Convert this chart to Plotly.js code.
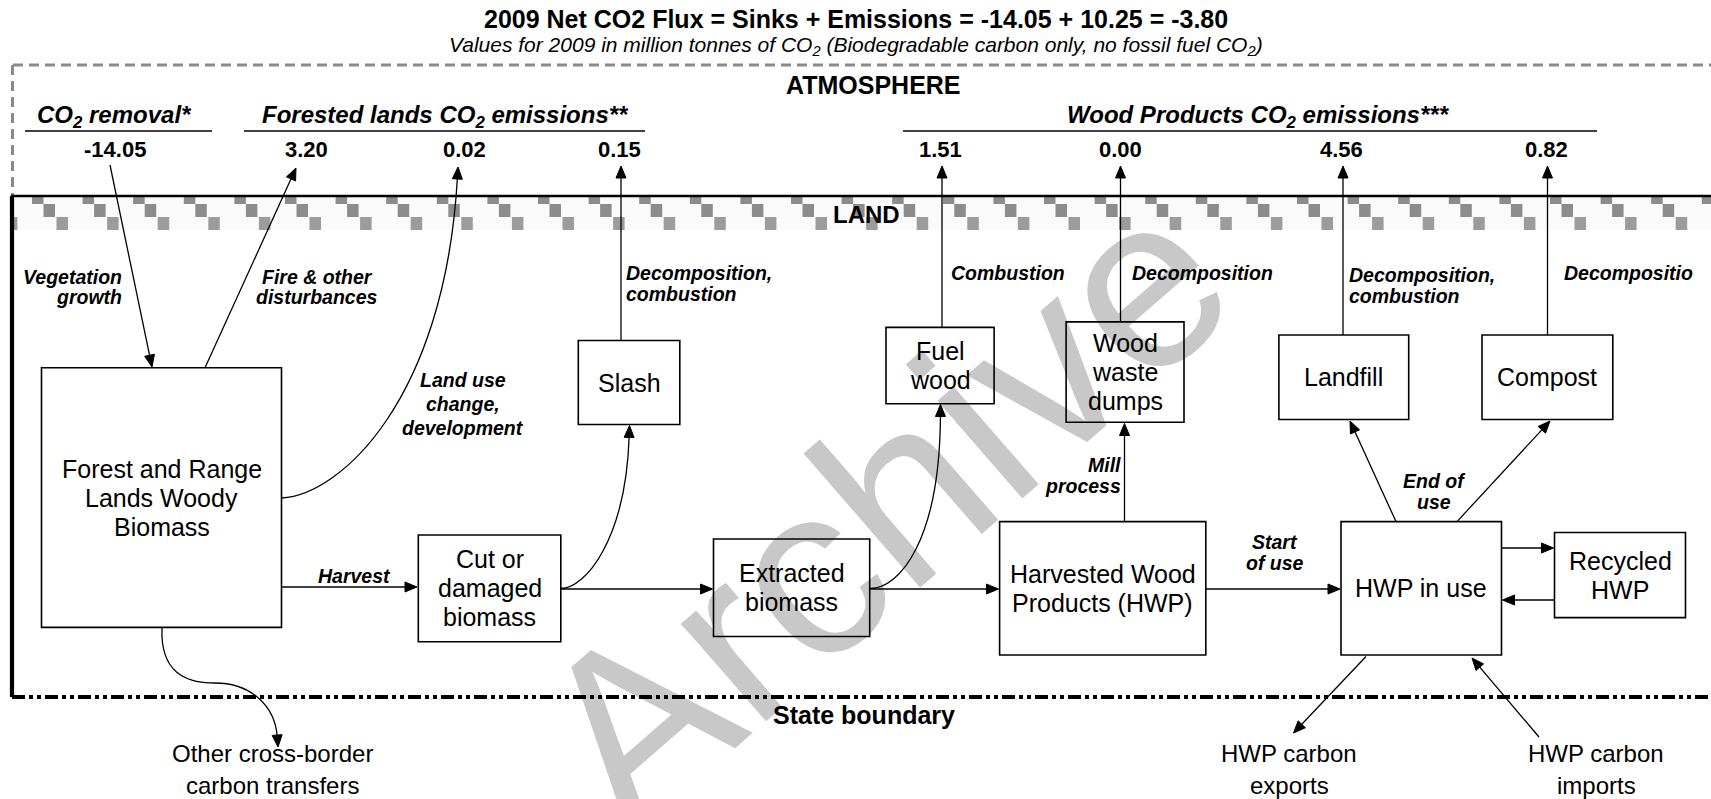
<!DOCTYPE html>
<html><head><meta charset="utf-8">
<script src="https://cdn.plot.ly/plotly-3.0.1.min.js"></script>
<style>
html,body{margin:0;padding:0;background:#fff;overflow:hidden;}
#wrap{position:relative;width:1711px;height:799px;}
#wm,#chart{position:absolute;left:0;top:0;width:1711px;height:799px;}
</style></head><body>
<div id="wrap"><div id="wm"></div><div id="chart"></div></div>
<script>
// ---------------- DATA ----------------
const titleText = "2009 Net CO2 Flux = Sinks + Emissions = -14.05 + 10.25 = -3.80";
const subtitleText = "Values for 2009 in million tonnes of CO<sub>2</sub> (Biodegradable carbon only, no fossil fuel CO<sub>2</sub>)";
const groupLabels = ["CO<sub>2</sub> removal*", "Forested lands CO<sub>2</sub> emissions**", "Wood Products CO<sub>2</sub> emissions***"];
const removalValues = [-14.05];
const forestEmissionValues = [3.20, 0.02, 0.15];
const woodEmissionValues = [1.51, 0.00, 4.56, 0.82];
const zoneLabels = ["ATMOSPHERE", "LAND", "State boundary"];
const boxLabels = [
  ["Forest and Range", "Lands Woody", "Biomass"],
  ["Slash"],
  ["Fuel", "wood"],
  ["Wood", "waste", "dumps"],
  ["Landfill"],
  ["Compost"],
  ["Cut or", "damaged", "biomass"],
  ["Extracted", "biomass"],
  ["Harvested Wood", "Products (HWP)"],
  ["HWP in use"],
  ["Recycled", "HWP"]
];
const flowLabels = [
  ["Vegetation", "growth"],
  ["Fire & other", "disturbances"],
  ["Land use", "change,", "development"],
  ["Decomposition,", "combustion"],
  ["Combustion"],
  ["Decomposition"],
  ["Decomposition,", "combustion"],
  ["Decompositio"],
  ["Harvest"],
  ["Mill", "process"],
  ["Start", "of use"],
  ["End of", "use"]
];
const outsideLabels = [
  ["Other cross-border", "carbon transfers"],
  ["HWP carbon", "exports"],
  ["HWP carbon", "imports"]
];
const watermarkText = "Archive";

// ---------------- LAYOUT GEOMETRY (pixels) ----------------
const W = 1711, H = 799;
const FONT = "Liberation Sans, Arial, Helvetica, sans-serif";
const boxes = [
  [41.5, 281.5, 367.7, 627.4],   // forest
  [578.3, 679.8, 340.5, 424.5],  // slash
  [886, 994.1, 327.4, 403.7],    // fuel wood
  [1066.1, 1184, 321.9, 422.3],  // wood waste
  [1278.9, 1408.7, 335, 419.5],  // landfill
  [1482, 1612.8, 335, 419.5],    // compost
  [418.3, 560.8, 535, 641.7],    // cut
  [713.5, 869.7, 539, 636.5],    // extracted
  [999.6, 1205.8, 521.6, 655],   // HWP
  [1341, 1501.5, 521.6, 655],    // HWP in use
  [1554.5, 1685.5, 532.5, 617.6] // recycled
];
const flowPos = [
  {x:124, y:276.5, a:'right'},
  {x:317, y:276.5, a:'center'},
  {x:463, y:380, a:'center'},
  {x:624, y:273, a:'left'},
  {x:949, y:273, a:'left'},
  {x:1130, y:273, a:'left'},
  {x:1347, y:275, a:'left'},
  {x:1562, y:273, a:'left'},
  {x:354, y:576, a:'center'},
  {x:1123, y:465, a:'right'},
  {x:1274.5, y:542, a:'center'},
  {x:1434, y:481, a:'center'}
];
const outsidePos = [{x:272, y:753.5}, {x:1289, y:753.5}, {x:1596, y:753.5}];
const valueX = {removal:[115], forest:[306, 464, 619], wood:[940, 1120, 1341.5, 1546]};
const valueY = 149;
const groupPos = [{x:114, y:116.5}, {x:445, y:116.5}, {x:1258, y:116.5}];
const groupLines = [[25, 212], [244, 645], [903, 1597]];

// ---------------- HELPERS ----------------
const shapes = [];
const ann = [];
function txt(text, x, y, size, anchor, style) {
  let t = text;
  if (style && style.indexOf('i') >= 0) t = '<i>' + t + '</i>';
  if (style && style.indexOf('b') >= 0) t = '<b>' + t + '</b>';
  ann.push({text:t, x:x, y:y, xref:'x', yref:'y', showarrow:false,
    xanchor:anchor || 'center', yanchor:'middle',
    font:{family:FONT, size:size, color:'#000'}});
}
function lines(arr, x, y0, dy, size, anchor, style) {
  arr.forEach((s, i) => txt(s, x, y0 + i * dy, size, anchor, style));
}
function seg(x0, y0, x1, y1, w, c, dash) {
  shapes.push({type:'line', xref:'x', yref:'y', x0:x0, y0:y0, x1:x1, y1:y1,
    line:{color:c || '#000', width:w || 1.3, dash:dash || 'solid'}});
}
function rect(b) {
  shapes.push({type:'rect', xref:'x', yref:'y', x0:b[0], x1:b[1], y0:b[2], y1:b[3],
    line:{color:'#000', width:1.6}, fillcolor:'rgba(0,0,0,0)'});
}
function fillRect(x0, x1, y0, y1, c) {
  shapes.push({type:'rect', xref:'x', yref:'y', x0:x0, x1:x1, y0:y0, y1:y1,
    line:{width:0}, fillcolor:c});
}
const HL = 12, HW = 5;
function head(x1, y1, x2, y2) {
  const dx = x2 - x1, dy = y2 - y1, L = Math.hypot(dx, dy);
  const ux = dx / L, uy = dy / L;
  const bx = x2 - ux * HL, by = y2 - uy * HL;
  const p1 = [bx - uy * HW, by + ux * HW], p2 = [bx + uy * HW, by - ux * HW];
  shapes.push({type:'path', xref:'x', yref:'y',
    path:`M${x2},${y2} L${p1[0]},${p1[1]} L${p2[0]},${p2[1]} Z`,
    line:{color:'#000', width:1}, fillcolor:'#000'});
}
function arrow(x1, y1, x2, y2) {
  const dx = x2 - x1, dy = y2 - y1, L = Math.hypot(dx, dy);
  seg(x1, y1, x2 - dx / L * (HL - 2), y2 - dy / L * (HL - 2), 1.3);
  head(x1, y1, x2, y2);
}
function curve(p0, p1, p2, p3, withHead) {
  let e = p3;
  if (withHead) {
    const dx = p3[0] - p2[0], dy = p3[1] - p2[1], L = Math.hypot(dx, dy);
    e = [p3[0] - dx / L * (HL - 2), p3[1] - dy / L * (HL - 2)];
  }
  shapes.push({type:'path', xref:'x', yref:'y',
    path:`M${p0[0]},${p0[1]} C${p1[0]},${p1[1]} ${p2[0]},${p2[1]} ${e[0]},${e[1]}`,
    line:{color:'#000', width:1.3}, fillcolor:'rgba(0,0,0,0)'});
  if (withHead) head(p2[0], p2[1], p3[0], p3[1]);
}

// ---------------- BUILD ----------------
// checkered band under land line
fillRect(14, W, 197, 230, '#fafafa');
const period = 50.6, sq = 11.5;
const rows = [[197, 204, 32, '#8c8c8c'], [204, 217, 43.5, '#8c8c8c'], [217, 230, 56.5, '#9c9c9c']];
rows.forEach(r => {
  for (let k = -1; k < 35; k++) {
    const x0 = r[2] + k * period;
    const a = Math.max(x0, 14), b = Math.min(x0 + sq, W);
    if (b > a) fillRect(a, b, r[0], r[1], r[3]);
  }
});

// atmosphere dashed frame
seg(13, 65, W + 5, 65, 3, '#8a8a8a', '10px,6px');
seg(12.5, 65, 12.5, 196, 3, '#8a8a8a', '10px,6px');
// land frame
seg(11, 196, W + 5, 196, 2.6, '#000');
seg(12, 196, 12, 697, 4.2, '#000');
// state boundary
seg(12, 697, W + 5, 697, 4, '#000', '13px,4px,4px,4px,4px,4px');

// group underlines
groupLines.forEach(g => seg(g[0], 131, g[1], 131, 1.6, '#000'));

// boxes
boxes.forEach(rect);

// arrows
arrow(110, 165, 152, 367);                 // vegetation growth
arrow(205, 367.7, 296, 168);               // fire
curve([281.5, 498], [340, 495], [445, 400], [458, 167], true); // land use change
arrow(621, 340.5, 621, 166);               // slash up
curve([560.8, 588.5], [585, 588.5], [626, 540], [629.5, 425.5], true); // cut -> slash
arrow(281.5, 587, 417, 587);               // harvest
arrow(560.8, 589, 712.5, 589);             // cut -> extracted
curve([869.7, 588.5], [900, 588.5], [940, 540], [940.5, 404.5], true); // extracted -> fuel
arrow(869.7, 589, 998.5, 589);             // extracted -> HWP
arrow(942, 327.4, 942, 166);               // fuel up
arrow(1120.5, 321.9, 1120.5, 166);         // waste up
arrow(1124.5, 521.6, 1124.5, 423.5);       // mill process
arrow(1343, 335, 1343, 166);               // landfill up
arrow(1547.5, 335, 1547.5, 166);           // compost up
arrow(1205.8, 589, 1340, 589);             // HWP -> use
arrow(1396, 521.6, 1350, 421);             // use -> landfill
arrow(1457, 521.6, 1550, 421);             // use -> compost
arrow(1502, 548, 1553.5, 548);             // use -> recycled
arrow(1554.5, 600, 1502.5, 600);           // recycled -> use
arrow(1366, 656.5, 1293.5, 733);           // exports
arrow(1539, 737, 1472, 658);               // imports
curve([162, 627.4], [160, 672], [185, 683], [215, 683], false); // cross-border part 1
curve([215, 683], [250, 683], [275, 705], [278, 747], true);    // cross-border part 2

// texts
txt(titleText, 855.5, 19, 25, 'center', 'b');
txt(subtitleText, 855.5, 45.5, 21, 'center', 'i');
txt(zoneLabels[0], 873, 84.5, 25, 'center', 'b');
txt(zoneLabels[1], 866, 214.5, 24, 'center', 'b');
txt(zoneLabels[2], 864, 715, 25, 'center', 'b');
groupLabels.forEach((g, i) => txt(g, groupPos[i].x, groupPos[i].y, 24, 'center', 'bi'));
removalValues.forEach((v, i) => txt(v.toFixed(2), valueX.removal[i], valueY, 22, 'center', 'b'));
forestEmissionValues.forEach((v, i) => txt(v.toFixed(2), valueX.forest[i], valueY, 22, 'center', 'b'));
woodEmissionValues.forEach((v, i) => txt(v.toFixed(2), valueX.wood[i], valueY, 22, 'center', 'b'));

const BOXDY = 29;
boxLabels.forEach((lab, i) => {
  const b = boxes[i];
  const cx = (b[0] + b[1]) / 2, cy = (b[2] + b[3]) / 2;
  const y0 = cy - (lab.length - 1) * BOXDY / 2;
  lines(lab, cx, y0, BOXDY, 25, 'center', '');
});
flowLabels.forEach((lab, i) => {
  const p = flowPos[i];
  lines(lab, p.x, p.y, (i === 2 ? 24 : 20.5), 19.5, p.a, 'bi');
});
outsideLabels.forEach((lab, i) => {
  const p = outsidePos[i];
  lines(lab, p.x, p.y, 31.5, 24, 'center', '');
});

const baseLayout = () => ({
  width: W, height: H,
  margin: {l:0, r:0, t:0, b:0, pad:0},
  paper_bgcolor: 'rgba(0,0,0,0)', plot_bgcolor: 'rgba(0,0,0,0)',
  xaxis: {range:[0, W], visible:false, fixedrange:true},
  yaxis: {range:[H, 0], visible:false, fixedrange:true},
  showlegend: false
});

const wmLayout = baseLayout();
wmLayout.paper_bgcolor = '#ffffff';
wmLayout.annotations = [{text: watermarkText, x: 882, y: 508, xref:'x', yref:'y',
  showarrow:false, xanchor:'center', yanchor:'middle', textangle:-41,
  font:{family:FONT, size:245, color:'#c8c8c8'}}];
Plotly.newPlot('wm', [], wmLayout, {staticPlot:true, displayModeBar:false});

const layout = baseLayout();
layout.shapes = shapes;
layout.annotations = ann;
Plotly.newPlot('chart', [], layout, {staticPlot:true, displayModeBar:false});
</script>
</body></html>
